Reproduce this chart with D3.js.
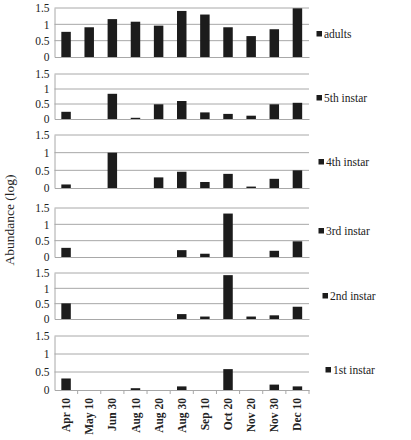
<!DOCTYPE html>
<html><head><meta charset="utf-8">
<script src="https://cdn.jsdelivr.net/npm/d3@7"></script>
<style>body{margin:0;background:#fff}svg{display:block}svg text{font-family:"Liberation Serif","DejaVu Serif",serif !important}</style>
</head><body>
<script>
const categories = ["Apr 10","May 10","Jun 30","Aug 10","Aug 20","Aug 30","Sep 10","Oct 20","Nov 20","Nov 30","Dec 10"];
const seriesNames = ["adults","5th instar","4th instar","3rd instar","2nd instar","1st instar"];
const adults     = [0.77,0.91,1.16,1.08,0.96,1.41,1.30,0.91,0.64,0.85,1.49];
const instar5    = [0.24,0,0.84,0.04,0.49,0.60,0.22,0.17,0.11,0.49,0.54];
const instar4    = [0.10,0,1.00,0,0.30,0.46,0.17,0.40,0.04,0.26,0.50];
const instar3    = [0.28,0,0,0,0,0.21,0.10,1.33,0,0.19,0.48];
const instar2    = [0.51,0,0,0,0,0.16,0.08,1.43,0.08,0.12,0.40];
const instar1    = [0.32,0,0,0.05,0,0.10,0,0.58,0,0.15,0.10];
const yTicks = [0,0.5,1,1.5];

const series = [adults,instar5,instar4,instar3,instar2,instar1];
const panels = [[8,57],[74,119],[135,188],[208,257],[273,319],[336,390]];
const legendPos = [[319,34],[319,98],[321,162],[321,231],[325,296],[328,370]];

const W=411,H=440;
const svg=d3.select("body").append("svg").attr("width",W).attr("height",H);
const font="'Liberation Serif','DejaVu Serif',serif";
const x=d3.scaleBand().domain(categories).range([54.5,309]).paddingInner(0.59).paddingOuter(0.295);
const band=d3.scaleBand().domain(categories).range([54.5,309]);

series.forEach((vals,i)=>{
  const [top,bot]=panels[i];
  const y=d3.scaleLinear().domain([0,1.5]).range([bot,top]);
  const g=svg.append("g");
  g.selectAll("line.grid").data(yTicks.slice(1)).join("line")
    .attr("x1",54.5).attr("x2",309).attr("y1",d=>y(d)).attr("y2",d=>y(d))
    .attr("stroke","#a8a8a8").attr("stroke-width",1);
  const ya=g.append("g").attr("transform","translate(54.5,0)")
    .call(d3.axisLeft(y).tickValues(yTicks).tickSize(0).tickPadding(5).tickFormat(d=>d));
  ya.attr("font-family",null);
  ya.select(".domain").attr("stroke","#a8a8a8");
  ya.selectAll("text").style("font-family",font).attr("font-size",11.5).attr("fill","#222");
  g.selectAll("rect").data(vals.map((v,j)=>({c:categories[j],v}))).join("rect")
    .attr("x",d=>x(d.c)).attr("width",x.bandwidth())
    .attr("y",d=>y(d.v)).attr("height",d=>y(0)-y(d.v))
    .attr("fill","#1c1c1c");
  const xa=g.append("g").attr("transform",`translate(0,${bot})`)
    .call(d3.axisBottom(band).tickSize(0).tickFormat(i===5?(d=>d):""));
  xa.attr("font-family",null);
  xa.select(".domain").attr("stroke","#a8a8a8");
  xa.selectAll(".tick line").remove();
  if(i===5){
    xa.selectAll("line.bt").data(categories).join("line")
      .attr("x1",d=>band(d)+band.bandwidth()).attr("x2",d=>band(d)+band.bandwidth())
      .attr("y1",0).attr("y2",4).attr("stroke","#a8a8a8");
    xa.selectAll(".tick text")
      .style("font-family",font).attr("font-size",11.5).attr("font-weight","bold").attr("fill","#222")
      .attr("transform","rotate(-90)").attr("text-anchor","end")
      .attr("x",-8).attr("y",0).attr("dy","0.35em");
  }
  const [lx,ly]=legendPos[i];
  svg.append("rect").attr("x",lx-2.5).attr("y",ly-3).attr("width",5.5).attr("height",5.5).attr("fill","#1c1c1c");
  svg.append("text").attr("x",lx+5).attr("y",ly).attr("dy","0.35em")
    .style("font-family",font).attr("font-size",11.5).attr("fill","#222").text(seriesNames[i]);
});

svg.append("text").attr("transform","translate(14,220) rotate(-90)")
  .attr("text-anchor","middle").style("font-family",font).attr("font-size",13.5).attr("fill","#222")
  .text("Abundance (log)");
</script>
</body></html>
